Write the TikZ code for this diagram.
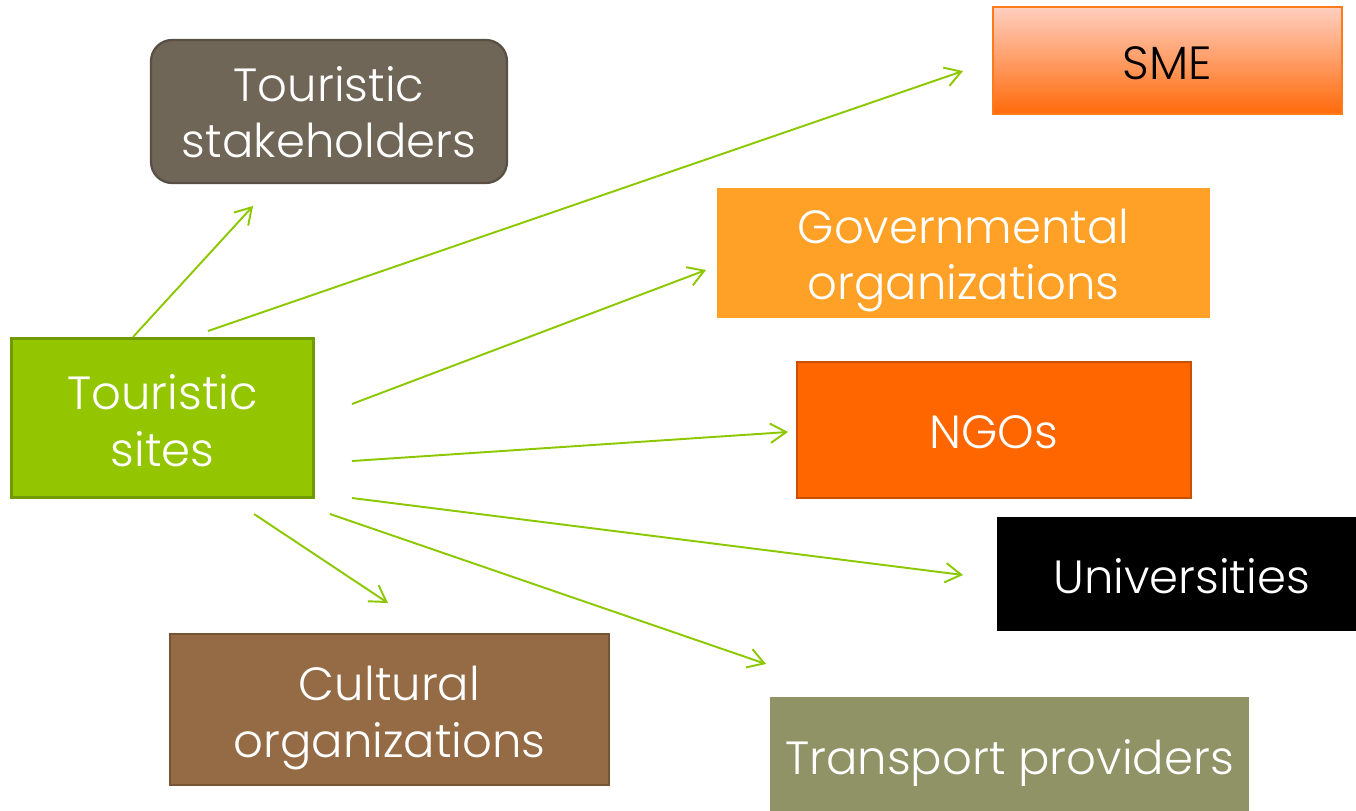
\documentclass[tikz,border=0pt]{standalone}
\usepackage{fontspec}
\setmainfont{Poppins}[UprightFont={* Light}]
\usetikzlibrary{arrows.meta}
\definecolor{arrowgreen}{HTML}{8CC800}
\definecolor{stakefill}{HTML}{706657}
\definecolor{stakedraw}{HTML}{585044}
\definecolor{sitesfill}{HTML}{94C600}
\definecolor{sitesdraw}{HTML}{6F9A00}
\definecolor{smetop}{HTML}{FFCFC0}
\definecolor{smebot}{HTML}{FF6A0A}
\definecolor{smedraw}{HTML}{FF7A1A}
\definecolor{govfill}{HTML}{FFA126}
\definecolor{ngofill}{HTML}{FF6600}
\definecolor{ngodraw}{HTML}{C85000}
\definecolor{transfill}{HTML}{8F9366}
\definecolor{cultfill}{HTML}{946B45}
\definecolor{cultdraw}{HTML}{765434}
\newcommand\dn[2]{\raisebox{-#1}[\height][\depth]{#2}}
\tikzset{
  box/.style={inner sep=0pt, align=center, text=white, line width=1.3pt,
    font=\fontsize{26.5}{32}\selectfont},
  link/.style={draw=arrowgreen, line width=1.1pt,
    -{Straight Barb[length=9pt,width=11pt,line width=1.1pt]}}
}
\begin{document}
\begin{tikzpicture}[x=0.02cm,y=-0.02cm]
\useasboundingbox (0,0) rectangle (1356,811);
% boxes
\node[box, fill=stakefill, draw=stakedraw, rounded corners=12pt,
  minimum width=7.12cm, minimum height=2.86cm] (stake) at (329,111.5)
  {\dn{0.5pt}{Touristic}\\\dn{0.5pt}{stakeholders}};
\node[box, fill=sitesfill, draw=sitesdraw, line width=1.7pt,
  minimum width=6.06cm, minimum height=3.2cm] (sites) at (162.5,418)
  {\dn{1.5pt}{Touristic}\\\dn{1.5pt}{sites}};
\node[box, top color=smetop, bottom color=smebot, draw=smedraw, text=black,
  minimum width=6.98cm, minimum height=2.14cm] (sme) at (1167.5,60.5)
  {\dn{1.7pt}{SME}};
\node[box, fill=govfill,
  minimum width=9.86cm, minimum height=2.6cm] (gov) at (963.5,253)
  {\dn{4.3pt}{Governmental}\\\dn{4.3pt}{organizations}};
\node[box, fill=ngofill, draw=ngodraw,
  minimum width=7.88cm, minimum height=2.72cm] (ngo) at (994,430)
  {\dn{1.2pt}{NGOs}};
\node[box, fill=black,
  minimum width=7.18cm, minimum height=2.28cm] (univ) at (1176.5,574)
  {\hspace*{0.2cm}\dn{1.2pt}{Universities}};
\node[box, fill=transfill,
  minimum width=9.58cm, minimum height=2.28cm] (trans) at (1009.5,754)
  {\dn{5pt}{Transport providers}};
\node[box, fill=cultfill, draw=cultdraw,
  minimum width=8.78cm, minimum height=3.02cm] (cult) at (389.5,709.5)
  {\dn{4.8pt}{Cultural}\\\dn{4.8pt}{organizations}};
% arrow ends
\coordinate (s1) at (133,337); \coordinate (e1) at (253,206);
\coordinate (s2) at (208,331); \coordinate (e2) at (963,71);
\coordinate (s3) at (352,404); \coordinate (e3) at (706,270);
\coordinate (s4) at (352,461); \coordinate (e4) at (788,432);
\coordinate (s5) at (352,498); \coordinate (e5) at (963,575);
\coordinate (s6) at (254,514); \coordinate (e6) at (388,603);
\coordinate (s7) at (330,514); \coordinate (e7) at (766,664);
\draw[link] (s1) -- (e1);
\draw[link] (s2) -- (e2);
\draw[link] (s3) -- (e3);
\draw[link] (s4) -- (e4);
\draw[link] (s5) -- (e5);
\draw[link] (s6) -- (e6);
\draw[link] (s7) -- (e7);
\end{tikzpicture}
\end{document}
